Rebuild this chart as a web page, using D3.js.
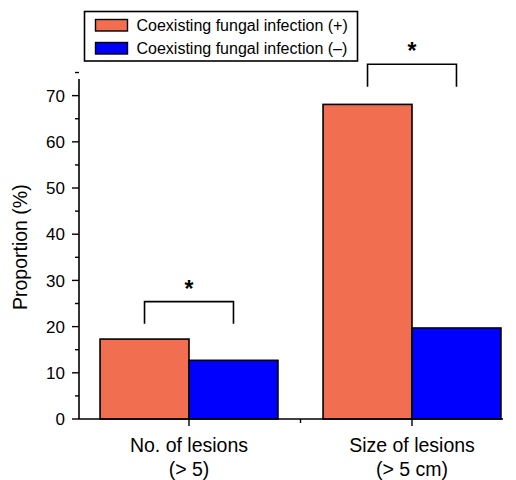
<!DOCTYPE html>
<html>
<head>
<meta charset="utf-8">
<script src="https://cdn.jsdelivr.net/npm/d3@7"></script>
<style>
  body { margin: 0; background: #fff; }
  svg { font-family: "Liberation Sans", Arial, sans-serif; }
</style>
</head>
<body>
<main></main>
<script>
const categories = ["No. of lesions|(> 5)", "Size of lesions|(> 5 cm)"];
const seriesNames = ["Coexisting fungal infection (+)", "Coexisting fungal infection (\u2013)"];
const positive = [17.3, 68.1];
const negative = [12.7, 19.7];
const yTicks = [0, 10, 20, 30, 40, 50, 60, 70];
// significance brackets: [bar top, leg bottom] in axis units
const brackets = [[25.4, 20.6], [76.8, 71.9]];

const w = 516, h = 480;
const colors = ["#f26e50", "#0000ff"];

const svg = d3.select("main").append("svg")
  .attr("width", w)
  .attr("height", h);

const scaleX = d3.scaleBand()
  .domain(categories)
  .range([77.5, 523.5])
  .paddingInner(0)
  .paddingOuter(0);

const scaleY = d3.scaleLinear()
  .domain([0, 73.6])
  .range([419, 79]);

const sub = d3.scaleBand()
  .domain([0, 1])
  .range([0, scaleX.bandwidth()])
  .paddingInner(0)
  .paddingOuter(0.2535);

const rows = categories.map((c, i) => ({ c, vals: [positive[i], negative[i]] }));

// bars
const groups = svg.selectAll("g.grp")
  .data(rows)
  .enter().append("g")
  .attr("class", "grp")
  .attr("transform", d => `translate(${scaleX(d.c)},0)`);

groups.selectAll("rect")
  .data(d => d.vals.map((v, j) => ({ v, j })))
  .enter().append("rect")
  .attr("x", d => sub(d.j))
  .attr("y", d => scaleY(d.v))
  .attr("width", sub.bandwidth())
  .attr("height", d => scaleY(0) - scaleY(d.v))
  .attr("fill", d => colors[d.j])
  .attr("stroke", "#000")
  .attr("stroke-width", 1.6);

// y axis
const axisY = svg.append("g")
  .attr("transform", `translate(${scaleX.range()[0] + 1.5},0)`);
axisY.append("line")
  .attr("y1", scaleY(0)).attr("y2", scaleY(73.6))
  .attr("stroke", "#000").attr("stroke-width", 1.6);
axisY.selectAll("line.minor")
  .data(yTicks.map(t => t + 5))
  .enter().append("line")
  .attr("class", "minor")
  .attr("x1", -4).attr("x2", 0)
  .attr("y1", d => scaleY(d)).attr("y2", d => scaleY(d))
  .attr("stroke", "#000").attr("stroke-width", 1.4);
axisY.selectAll("line.major")
  .data(yTicks)
  .enter().append("line")
  .attr("class", "major")
  .attr("x1", -7).attr("x2", 0)
  .attr("y1", d => scaleY(d)).attr("y2", d => scaleY(d))
  .attr("stroke", "#000").attr("stroke-width", 1.4);
axisY.selectAll("text")
  .data(yTicks)
  .enter().append("text")
  .attr("x", -14)
  .attr("y", d => scaleY(d))
  .attr("dy", "0.36em")
  .attr("text-anchor", "end")
  .attr("font-size", 17)
  .text(d => d);

svg.append("text")
  .attr("transform", `translate(27,${scaleY(37.2)}) rotate(-90)`)
  .attr("text-anchor", "middle")
  .attr("font-size", 19.5)
  .text("Proportion (%)");

// x axis
const axisX = svg.append("g");
axisX.append("line")
  .attr("x1", 78.7).attr("x2", 503)
  .attr("y1", scaleY(0)).attr("y2", scaleY(0))
  .attr("stroke", "#000").attr("stroke-width", 1.6);
axisX.selectAll("line.major")
  .data(categories)
  .enter().append("line")
  .attr("x1", d => scaleX(d) + scaleX.bandwidth() / 2)
  .attr("x2", d => scaleX(d) + scaleX.bandwidth() / 2)
  .attr("y1", scaleY(0)).attr("y2", scaleY(0) + 7)
  .attr("stroke", "#000").attr("stroke-width", 1.4);
axisX.append("line")
  .attr("x1", scaleX(categories[1])).attr("x2", scaleX(categories[1]))
  .attr("y1", scaleY(0)).attr("y2", scaleY(0) + 4)
  .attr("stroke", "#000").attr("stroke-width", 1.4);
axisX.selectAll("text")
  .data(categories)
  .enter().append("text")
  .attr("x", d => scaleX(d) + scaleX.bandwidth() / 2)
  .attr("y", scaleY(0) + 33)
  .attr("text-anchor", "middle")
  .attr("font-size", 19.5)
  .selectAll("tspan")
  .data(d => d.split("|"))
  .enter().append("tspan")
  .attr("x", function () { return d3.select(this.parentNode).attr("x"); })
  .attr("dy", (d, i) => i === 0 ? 0 : 24)
  .text(d => d);

// significance brackets
rows.forEach((r, i) => {
  const x0 = scaleX(r.c) + sub(0) + sub.bandwidth() / 2;
  const x1 = scaleX(r.c) + sub(1) + sub.bandwidth() / 2;
  const [top, leg] = brackets[i];
  svg.append("path")
    .attr("d", `M${x0},${scaleY(leg)}V${scaleY(top)}H${x1}V${scaleY(leg)}`)
    .attr("fill", "none")
    .attr("stroke", "#000")
    .attr("stroke-width", 1.6);
  svg.append("text")
    .attr("x", (x0 + x1) / 2)
    .attr("y", scaleY(top) - 5)
    .attr("text-anchor", "middle")
    .attr("font-size", 23)
    .attr("font-weight", "bold")
    .text("*");
});

// legend
const legend = svg.append("g");
legend.append("rect")
  .attr("x", 84.5).attr("y", 11.5)
  .attr("width", 273).attr("height", 49.5)
  .attr("fill", "#fff").attr("stroke", "#000").attr("stroke-width", 1.6);
seriesNames.forEach((name, j) => {
  legend.append("rect")
    .attr("x", 95.5).attr("y", 19.5 + j * 23)
    .attr("width", 32).attr("height", 11.5)
    .attr("fill", colors[j]).attr("stroke", "#000").attr("stroke-width", 1.4);
  legend.append("text")
    .attr("x", 136.5).attr("y", 25.5 + j * 23)
    .attr("dy", "0.36em")
    .attr("font-size", 16)
    .text(name);
});
</script>
</body>
</html>
